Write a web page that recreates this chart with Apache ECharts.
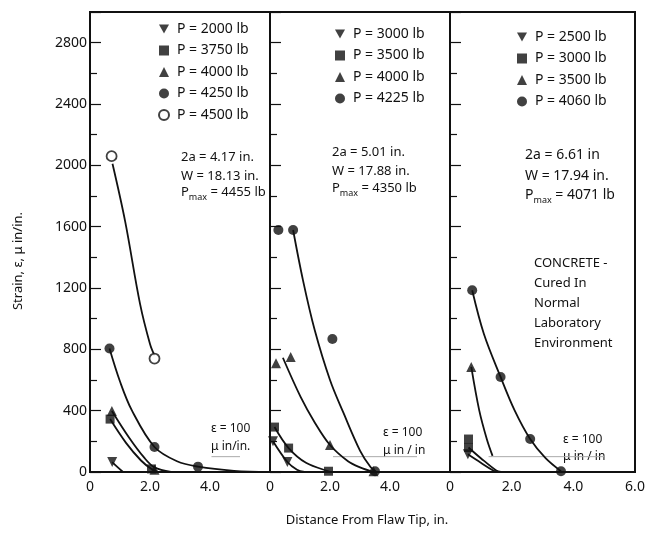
<!DOCTYPE html>
<html>
<head>
<meta charset="utf-8">
<script src="https://cdn.jsdelivr.net/npm/echarts@6/dist/echarts.min.js"></script>
<style>
  html, body { margin: 0; padding: 0; background: #fff; }
  #chart { width: 648px; height: 534px; }
</style>
</head>
<body>
<div id="chart"></div>
<script>
// axis setup
const xTicks = [0, 2, 4, 6]
const yMax = 3000

// panel 1: 2a = 4.17 in.
const p1_2000_pts = [[0.74, 65]]
const p1_2000_curve = [[0.74, 65], [0.9, 35], [1.1, 0]]
const p1_3750_pts = [[0.67, 345], [2.05, 20]]
const p1_3750_curve = [[0.67, 345], [1.2, 190], [1.7, 75], [2.05, 20], [2.3, 0]]
const p1_4000_pts = [[0.73, 398], [2.15, 15]]
const p1_4000_curve = [[0.73, 398], [1.3, 225], [1.8, 95], [2.15, 30], [2.7, 0]]
const p1_4250_pts = [[0.65, 805], [2.15, 163], [3.6, 35]]
const p1_4250_curve = [[0.65, 805], [1.0, 590], [1.4, 400], [2.15, 163], [2.9, 70], [3.6, 35], [4.8, 8], [6, 0]]
const p1_4500_pts = [[0.72, 2060], [2.15, 740]]
const p1_4500_curve = [[0.75, 2010], [1.17, 1636], [1.67, 1095], [2.0, 835], [2.15, 760]]

// panel 2: 2a = 5.01 in.
const p2_3000_pts = [[0.1, 200], [0.58, 65]]
const p2_3000_curve = [[0.1, 200], [0.58, 65], [0.9, 15], [1.15, 0]]
const p2_3500_pts = [[0.15, 293], [0.62, 156], [1.95, 5]]
const p2_3500_curve = [[0.15, 293], [0.62, 156], [1.2, 60], [1.95, 5], [2.1, 0]]
const p2_4000_pts = [[0.2, 710], [0.69, 750], [2.0, 176], [3.45, 5]]
const p2_4000_curve = [[0.43, 745], [1.02, 490], [1.5, 320], [2.0, 176], [2.6, 70], [3.0, 30], [3.45, 0]]
const p2_4225_pts = [[0.28, 1578], [0.77, 1578], [2.08, 867], [3.5, 5]]
const p2_4225_curve = [[0.77, 1578], [1.1, 1250], [1.49, 926], [2.0, 600], [2.45, 385], [3.0, 140], [3.35, 33], [3.55, 0]]

// panel 3: 2a = 6.61 in
const p3_2500_pts = [[0.58, 115]]
const p3_2500_curve = [[0.58, 115], [1.0, 60], [1.4, 10], [1.55, 0]]
const p3_3000_pts = [[0.6, 215], [0.6, 160]]
const p3_3000_curve = [[0.6, 160], [1.0, 90], [1.5, 10], [1.65, 0]]
const p3_3500_pts = [[0.69, 685]]
const p3_3500_curve = [[0.69, 685], [0.95, 400], [1.2, 210], [1.38, 105]]
const p3_4060_pts = [[0.72, 1185], [1.64, 620], [2.6, 215], [3.6, 5]]
const p3_4060_curve = [[0.72, 1185], [1.1, 900], [1.64, 620], [2.1, 400], [2.6, 215], [3.1, 90], [3.6, 5]]

// eps = 100 reference lines
const eps1 = [[4.05, 100], [5.0, 100]]
const eps2 = [[2.1, 100], [4.9, 100]]
const eps3 = [[1.25, 100], [5.0, 100]]

const DOWN = 'path://M0,0L10,0L5,9Z'
const font = 'Noto Sans'

const panels = [
    [
        { name: 'a|2000', sym: DOWN, pts: p1_2000_pts, curve: p1_2000_curve },
        { name: 'a|3750', sym: 'rect', pts: p1_3750_pts, curve: p1_3750_curve },
        { name: 'a|4000', sym: 'triangle', pts: p1_4000_pts, curve: p1_4000_curve },
        { name: 'a|4250', sym: 'circle', pts: p1_4250_pts, curve: p1_4250_curve },
        { name: 'a|4500', sym: 'circle', open: true, pts: p1_4500_pts, curve: p1_4500_curve },
    ],
    [
        { name: 'b|3000', sym: DOWN, pts: p2_3000_pts, curve: p2_3000_curve },
        { name: 'b|3500', sym: 'rect', pts: p2_3500_pts, curve: p2_3500_curve },
        { name: 'b|4000', sym: 'triangle', pts: p2_4000_pts, curve: p2_4000_curve },
        { name: 'b|4225', sym: 'circle', pts: p2_4225_pts, curve: p2_4225_curve },
    ],
    [
        { name: 'c|2500', sym: DOWN, pts: p3_2500_pts, curve: p3_2500_curve },
        { name: 'c|3000', sym: 'rect', pts: p3_3000_pts, curve: p3_3000_curve },
        { name: 'c|3500', sym: 'triangle', pts: p3_3500_pts, curve: p3_3500_curve },
        { name: 'c|4060', sym: 'circle', pts: p3_4060_pts, curve: p3_4060_curve },
    ],
]
const epsLines = [eps1, eps2, eps3]

const grids = [
    { left: 90, top: 12, width: 180, height: 460 },
    { left: 270, top: 12, width: 180, height: 460 },
    { left: 450, top: 12, width: 185, height: 460 },
]
// legend boxes, one per panel
const legendPos = [
    { left: 158, top: 22 },
    { left: 335, top: 27 },
    { left: 517, top: 30 },
]

const series = []
panels.forEach((list, i) => {
    series.push({
        type: 'line', xAxisIndex: i, yAxisIndex: i, data: epsLines[i],
        showSymbol: false, silent: true,
        lineStyle: { color: '#aaa', width: 1 }, z: 1
    })
    list.forEach(s => {
        series.push({
            name: s.name + ' curve',
            type: 'line', xAxisIndex: i, yAxisIndex: i,
            data: s.curve, smooth: 0.35, showSymbol: false, silent: true,
            lineStyle: { color: '#111', width: 1.8 }, z: 2
        })
        series.push({
            name: s.name,
            type: 'scatter', xAxisIndex: i, yAxisIndex: i,
            data: s.pts, symbol: s.sym, symbolSize: s.sym === 'rect' ? 9 : 10,
            itemStyle: s.open
                ? { color: '#fff', borderColor: '#111', borderWidth: 1.8 }
                : { color: '#111' },
            z: 3
        })
    })
})

const chart = echarts.init(document.getElementById('chart'))

const rich = size => ({
    p: { fontSize: size, fontFamily: font, lineHeight: 17 },
    s: { fontSize: 9, fontFamily: font, lineHeight: 17, padding: [10, 0, 0, 0] }
})

const option = {
    backgroundColor: '#fff',
    animation: false,
    textStyle: { fontFamily: font, color: '#111' },
    grid: grids.map(g => ({ ...g, show: true, borderColor: '#111', borderWidth: 2 })),
    legend: panels.map((list, i) => ({
        ...legendPos[i],
        orient: 'vertical', padding: 0,
        itemWidth: 10, itemHeight: 10, itemGap: 7.5,
        selectedMode: false,
        data: list.map(s => s.name),
        formatter: name => 'P = ' + name.split('|')[1] + ' lb',
        textStyle: { fontFamily: font, fontSize: 14, color: '#111', padding: [0, 0, 0, 3] }
    })),
    xAxis: grids.map((g, i) => ({
        type: 'value', gridIndex: i, min: xTicks[0], max: xTicks[xTicks.length - 1], interval: 2,
        axisLine: { lineStyle: { color: '#111', width: 2 } },
        axisTick: { show: false },
        splitLine: { show: false },
        axisLabel: {
            color: '#111', fontSize: 14, margin: 8,
            formatter: v => (v === 6 && i < 2) ? '' : (v === 0 ? '0' : v.toFixed(1))
        }
    })),
    yAxis: grids.map((g, i) => ({
        type: 'value', gridIndex: i, min: 0, max: yMax, interval: 400,
        axisLine: { show: true, lineStyle: { color: '#111', width: 2 } },
        axisTick: { show: true, inside: true, length: 11, lineStyle: { color: '#111', width: 1.2 } },
        minorTick: { show: true, splitNumber: 2, length: 7, lineStyle: { color: '#111', width: 1.2 } },
        splitLine: { show: false },
        axisLabel: {
            show: i === 0, color: '#111', fontSize: 14, margin: 3,
            formatter: v => v >= yMax ? '' : String(v)
        }
    })),
    graphic: [
        {
            type: 'text', x: 18, y: 261, rotation: Math.PI / 2,
            style: { text: 'Strain, \u03b5, \u03bc in/in.', font: '13px "Noto Sans"', fill: '#111', align: 'center', verticalAlign: 'middle' }
        },
        {
            type: 'text', x: 367, y: 520,
            style: { text: 'Distance From Flaw Tip, in.', font: '13px "Noto Sans"', fill: '#111', align: 'center', verticalAlign: 'middle' }
        },
        // panel 1 notes
        { type: 'text', x: 181, y: 148, style: { text: '2a = 4.17 in.\nW = 18.13 in.', font: '13px "Noto Sans"', lineHeight: 19, fill: '#111' } },
        { type: 'text', x: 181, y: 184, style: { text: '{p|P}{s|max}{p| = 4455 lb}', fill: '#111', rich: rich(13) } },
        // panel 2 notes
        { type: 'text', x: 332, y: 143, style: { text: '2a = 5.01 in.\nW = 17.88 in.', font: '13px "Noto Sans"', lineHeight: 19, fill: '#111' } },
        { type: 'text', x: 332, y: 180, style: { text: '{p|P}{s|max}{p| = 4350 lb}', fill: '#111', rich: rich(13) } },
        // panel 3 notes
        { type: 'text', x: 525, y: 145, style: { text: '2a = 6.61 in\nW = 17.94 in.', font: '14px "Noto Sans"', lineHeight: 21, fill: '#111' } },
        { type: 'text', x: 525, y: 187, style: { text: '{p|P}{s|max}{p| = 4071 lb}', fill: '#111', rich: rich(14) } },
        { type: 'text', x: 534, y: 253, style: { text: 'CONCRETE -\nCured In\nNormal\nLaboratory\nEnvironment', font: '13px "Noto Sans"', lineHeight: 20, fill: '#111' } },
        // eps = 100 labels
        { type: 'text', x: 211, y: 420, style: { text: '\u03b5 = 100\n\u03bc in/in.', font: '12px "Noto Sans"', lineHeight: 18, fill: '#111' } },
        { type: 'text', x: 383, y: 424, style: { text: '\u03b5 = 100\n\u03bc in / in', font: '12px "Noto Sans"', lineHeight: 18, fill: '#111' } },
        { type: 'text', x: 563, y: 431, style: { text: '\u03b5 = 100\n\u03bc in / in', font: '12px "Noto Sans"', lineHeight: 17, fill: '#111' } },
    ],
    series
}

chart.setOption(option)
</script>
</body>
</html>
